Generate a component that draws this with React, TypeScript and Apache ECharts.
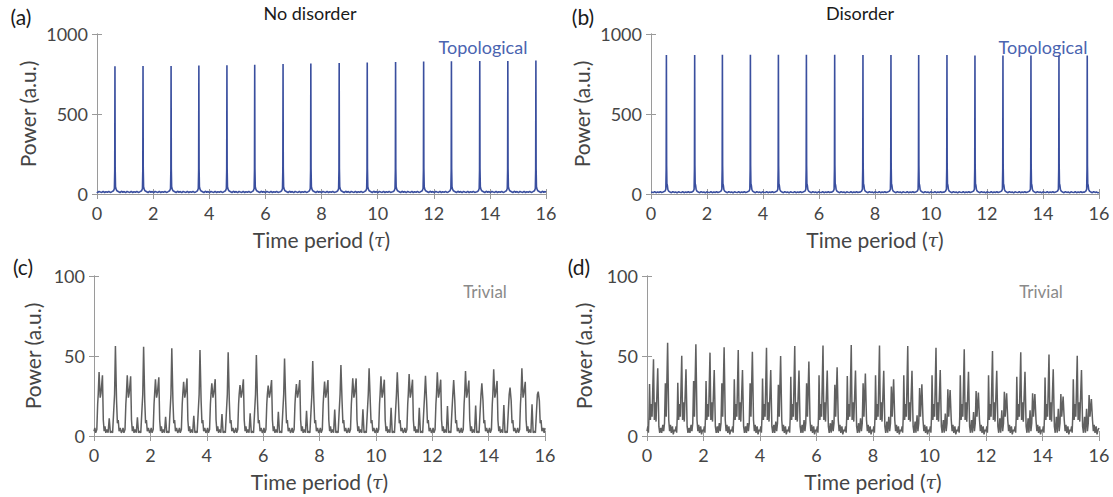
import React, { useEffect, useRef } from "react";
import * as echarts from "echarts";

// ---------- data ----------
// (a) No disorder, topological: spike times (τ) and peak powers
const peakTimesA = [0.64, 1.64, 2.64, 3.63, 4.63, 5.62, 6.63, 7.62, 8.63, 9.63, 10.64, 11.64, 12.63, 13.64, 14.64, 15.64];
const peakPowerA = [798, 800, 800, 803, 805, 808, 812, 815, 818, 822, 825, 828, 830, 832, 832, 835];
// (b) Disorder, topological
const peakTimesB = [0.55, 1.56, 2.55, 3.55, 4.55, 5.55, 6.56, 7.57, 8.57, 9.56, 10.57, 11.57, 12.57, 13.57, 14.57, 15.58];
const peakPowerB = [868, 868, 870, 870, 870, 870, 870, 868, 868, 868, 868, 866, 866, 866, 866, 866];

// spike shape around each peak: [offset τ, power] (null = the peak itself)
const spikeShapeA: [number, number | null][] = [[-0.1, 14], [-0.05, 20], [-0.02, 34], [-0.008, 150], [0, null], [0.008, 160], [0.02, 46], [0.04, 30], [0.07, 20]];
const spikeShapeB: [number, number | null][] = [[-0.1, 12], [-0.05, 18], [-0.02, 30], [-0.008, 160], [0, null], [0.008, 180], [0.018, 64], [0.032, 56], [0.05, 30], [0.08, 18]];
// noisy floor between spikes: offsets after a peak and their powers
const floorOffsets = [0.13, 0.18, 0.23, 0.28, 0.33, 0.38, 0.43, 0.48, 0.53, 0.58, 0.63, 0.68, 0.73, 0.78, 0.83, 0.88];
const floorPowerA = [14, 9, 17, 11, 15, 8, 16, 12, 10, 17, 9, 14, 11, 16, 10, 13];
const floorPowerB = [12, 8, 15, 10, 13, 7, 14, 11, 9, 15, 8, 12, 10, 14, 9, 12];

// (c) No disorder, trivial: per period n = 0..15
const cPeakA = [40, 38, 35.5, 33.8, 32.9, 31.9, 31.5, 32.5, 34, 36, 37.3, 38.7, 39.8, 40.6, 41.7, 42.3]; // n+0.18
const cPeakB = [38, 37.3, 36.7, 36, 35.5, 35.4, 35, 35, 35, 36, 35.2, 35.2, 35.2, 34.6, 34.4, 33.9]; // n+0.30
const cSmall = [11, 11.7, 12, 12.7, 13.8, 14.2, 15.2, 15.8, 16.5, 16.7, 17.7, 17.7, 18.8, 19, 19.4, 19.8]; // n+0.54
const cBig = [56.2, 55.8, 54.8, 53.8, 52.3, 50.6, 48.5, 46.9, 44.4, 42.3, 39.8, 37.7, 35, 33, 30.2, 27.7]; // n+0.76
const cShape: [number, number | string][] = [
  [0, 3], [0.03, 5], [0.06, 2], [0.1, 4], [0.13, 20], [0.15, 26], [0.18, "A"], [0.22, 24], [0.25, 27], [0.3, "B"],
  [0.33, 10], [0.36, 3], [0.39, 6], [0.42, 2], [0.46, 4], [0.5, 2], [0.54, "S"], [0.58, 2], [0.62, 3], [0.66, 2],
  [0.7, 16], [0.73, 26], [0.76, "P"], [0.8, 22], [0.83, 8], [0.86, 10], [0.89, 3], [0.93, 5], [0.97, 2],
];

// (d) Disorder, trivial: per period n = 0..15
const dPeakS = [32.5, 33.3, 34.4, 35.4, 36, 37, 38, 37.5, 38, 38, 38, 38, 38, 37, 36.5, 35.4]; // n+0.09
const dPeakT = [48, 50.2, 52.1, 53.8, 55.2, 56.3, 56.5, 56.9, 56.5, 56.3, 55.2, 54.2, 53.1, 52.3, 51, 50.2]; // n+0.23
const dPeakU = [42.3, 41.7, 41.3, 41.3, 41.3, 41, 41, 41, 40.8, 40.8, 41.3, 40.2, 40.8, 40.2, 41.7, 41.3]; // n+0.38
const dMid1 = [5, 5, 6, 6, 7, 7, 8, 8, 9, 9, 10, 10, 11, 11, 12, 12]; // n+0.49
const dMid2 = [7, 7, 8, 8, 9, 10, 10, 11, 12, 13, 14, 15, 16, 16, 17, 17]; // n+0.56
const dPeakV = [33, 34.4, 33, 33, 32, 33, 32, 33, 31, 30, 29.2, 28.1, 27.7, 26.7, 26.2, 25.6]; // n+0.65
const dPeakW = [58.3, 57.3, 55.4, 52.7, 50, 46.5, 43, 39, 35.4, 32.3, 28.8, 27.1, 26.7, 26.2, 24.6, 23.1]; // n+0.73
const dShape: [number, number | string][] = [
  [0, 3], [0.03, 6], [0.05, 2], [0.07, 12], [0.09, "S"], [0.12, 10], [0.15, 20], [0.18, 12], [0.23, "T"], [0.26, 10],
  [0.29, 21], [0.32, 9], [0.38, "U"], [0.42, 6], [0.45, 2], [0.49, "M1"], [0.52, 2], [0.56, "M2"], [0.59, 3], [0.62, 8],
  [0.65, "V"], [0.68, 12], [0.73, "W"], [0.77, 10], [0.8, 3], [0.83, 7], [0.86, 2], [0.9, 6], [0.93, 1], [0.97, 4],
];

const T_MAX = 16;

function spikeSeries(times: number[], powers: number[], shape: [number, number | null][], floor: number[]) {
  const pts: number[][] = [];
  pts.push([0, floor[0]]);
  floorOffsets.forEach((o, k) => {
    const t = times[0] - 1 + o;
    if (t > 0) pts.push([t, floor[k]]);
  });
  times.forEach((tp, i) => {
    shape.forEach(([o, v]) => pts.push([tp + o, v === null ? powers[i] : v]));
    floorOffsets.forEach((o, k) => {
      const t = tp + o;
      if (t < T_MAX && (i === times.length - 1 || t < times[i + 1] - 0.1)) pts.push([t, floor[k]]);
    });
  });
  pts.push([T_MAX, floor[3]]);
  return pts;
}

function periodSeries(shape: [number, number | string][], named: Record<string, number[]>) {
  const pts: number[][] = [];
  for (let n = 0; n < T_MAX; n++) {
    shape.forEach(([o, v]) => {
      pts.push([n + o, typeof v === "string" ? named[v][n] : v]);
    });
  }
  pts.push([T_MAX, 5]);
  return pts;
}

const FONT = 'Lato, "Open Sans", sans-serif';
const TXT = "#454545";
const FRAME = "#9a9a9a";
const BLUE = "#3a4f9f";
const GRAY = "#606060";

export default function App() {
  const ref = useRef<HTMLDivElement>(null);

  useEffect(() => {
    document.body.style.margin = "0";
    if (!ref.current) return;
    const chart = echarts.init(ref.current, undefined, { renderer: "svg" });

    const grids = [
      { left: 97, top: 34, width: 449, height: 160 },
      { left: 651, top: 34, width: 448, height: 160 },
      { left: 94, top: 276, width: 451, height: 160 },
      { left: 647, top: 276, width: 452, height: 160 },
    ];
    const yMax = [1000, 1000, 100, 100];
    const yInt = [500, 500, 50, 50];
    const yGap = [59, 59, 51, 53];

    const xAxis: any[] = [];
    const yAxis: any[] = [];
    grids.forEach((_, g) => {
      xAxis.push({
        gridIndex: g, type: "value", min: 0, max: 16, interval: 2, position: "bottom",
        axisLine: { show: true, lineStyle: { color: FRAME, width: 1 } },
        axisTick: { show: true, inside: true, length: 5, lineStyle: { color: FRAME } },
        axisLabel: { color: TXT, fontSize: 18, fontFamily: FONT, margin: 10, formatter: (v: number) => String(v) },
        splitLine: { show: false },
        name: "Time period ({t|τ})", nameLocation: "middle", nameGap: 35,
        nameTextStyle: {
          color: TXT, fontSize: 21, fontFamily: FONT,
          rich: { t: { fontStyle: "italic", fontFamily: '"DejaVu Serif", serif', fontSize: 19, color: TXT } },
        },
      });
      xAxis.push({
        gridIndex: g, type: "value", min: 0, max: 16, interval: 2, position: "top",
        axisLine: { show: true, lineStyle: { color: FRAME, width: 1 } },
        axisTick: { show: true, inside: true, length: 5, lineStyle: { color: FRAME } },
        axisLabel: { show: false }, splitLine: { show: false },
      });
      yAxis.push({
        gridIndex: g, type: "value", min: 0, max: yMax[g], interval: yInt[g], position: "left",
        axisLine: { show: true, lineStyle: { color: FRAME, width: 1 } },
        axisTick: { show: true, inside: true, length: 5, lineStyle: { color: FRAME } },
        axisLabel: { color: TXT, fontSize: 18, fontFamily: FONT, margin: 9, formatter: (v: number) => String(v) },
        splitLine: { show: false },
        name: "Power (a.u.)", nameLocation: "middle", nameGap: yGap[g],
        nameTextStyle: { color: TXT, fontSize: 21, fontFamily: FONT },
      });
      yAxis.push({
        gridIndex: g, type: "value", min: 0, max: yMax[g], interval: yInt[g], position: "right",
        axisLine: { show: true, lineStyle: { color: FRAME, width: 1 } },
        axisTick: { show: true, inside: true, length: 5, lineStyle: { color: FRAME } },
        axisLabel: { show: false }, splitLine: { show: false },
      });
    });

    const lineSeries = (g: number, data: number[][], color: string, width: number) => ({
      type: "line", xAxisIndex: 2 * g, yAxisIndex: 2 * g, data, showSymbol: false, symbol: "none",
      lineStyle: { color, width }, clip: true, silent: true,
    });

    const txt = (text: string, x: number, y: number, size: number, color: string, weight = "normal") => ({
      type: "text", x, y, silent: true,
      style: { text, fontSize: size, fontFamily: FONT, fill: color, fontWeight: weight, align: "center", verticalAlign: "middle" },
    });

    chart.setOption({
      animation: false,
      grid: grids,
      xAxis, yAxis,
      series: [
        lineSeries(0, spikeSeries(peakTimesA, peakPowerA, spikeShapeA, floorPowerA), BLUE, 1.6),
        lineSeries(1, spikeSeries(peakTimesB, peakPowerB, spikeShapeB, floorPowerB), BLUE, 1.6),
        lineSeries(2, periodSeries(cShape, { A: cPeakA, B: cPeakB, S: cSmall, P: cBig }), GRAY, 1.5),
        lineSeries(3, periodSeries(dShape, { S: dPeakS, T: dPeakT, U: dPeakU, M1: dMid1, M2: dMid2, V: dPeakV, W: dPeakW }), GRAY, 1.5),
      ],
      graphic: [
        txt("(a)", 21, 16, 21, "#1a1a1a"),
        txt("No disorder", 310, 13, 18, "#1a1a1a"),
        txt("(b)", 583, 16, 21, "#1a1a1a"),
        txt("Disorder", 860, 13, 18, "#1a1a1a"),
        txt("(c)", 23, 266, 21, "#1a1a1a"),
        txt("(d)", 579, 266, 21, "#1a1a1a"),
        txt("Topological", 483, 47, 18, "#4a64b0"),
        txt("Topological", 1043, 47, 18, "#4a64b0"),
        txt("Trivial", 485, 291, 17, "#8a8a8a"),
        txt("Trivial", 1041, 291, 17, "#8a8a8a"),
      ],
    });

    return () => chart.dispose();
  }, []);

  return <div ref={ref} style={{ width: 1113, height: 497 }} />;
}
